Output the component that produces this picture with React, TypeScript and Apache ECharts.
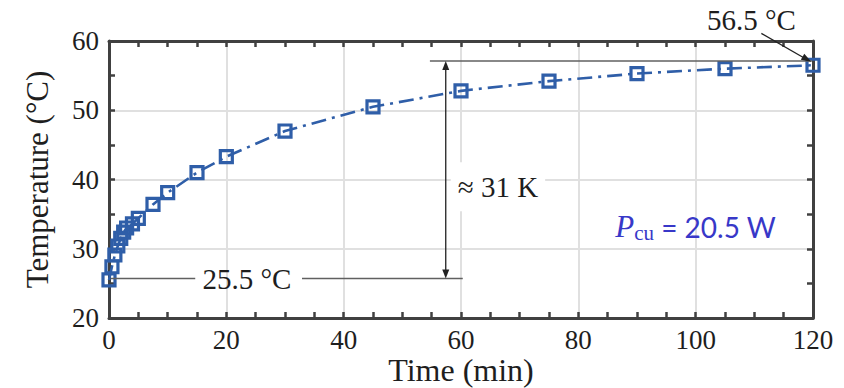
import React, { useEffect, useRef } from "react";
import * as echarts from "echarts";

// ---- data ----
const timeMin = [0, 0.5, 1, 1.5, 2, 2.5, 3, 4, 5, 7.5, 10, 15, 20, 30, 45, 60, 75, 90, 105, 120];
const tempC = [25.5, 27.4, 29.1, 30.4, 31.5, 32.4, 33.0, 33.6, 34.4, 36.4, 38.1, 41.0, 43.3, 47.0, 50.5, 52.8, 54.2, 55.3, 56.0, 56.5];
const xTicks = [0, 20, 40, 60, 80, 100, 120];
const yTicks = [20, 30, 40, 50, 60];

// annotation levels / labels (data units)
const startLevel = 25.7;
const endLevel = 57.1;
const startLabel = "25.5 °C";
const endLabel = "56.5 °C";
const riseLabel = "≈ 31 K";
const powerValue = "20.5 W";

const BLUE = "#2f5ea8";
const AXIS = "#404040";
const TEXT = "#1e1e1e";
const PCOLOR = "#3838c8";
const FONT = "'Liberation Serif', 'DejaVu Serif', serif";

function arrowHead(from: number[], to: number[], len: number, half: number) {
  const dx = to[0] - from[0];
  const dy = to[1] - from[1];
  const d = Math.hypot(dx, dy) || 1;
  const ux = dx / d, uy = dy / d;
  const bx = to[0] - ux * len, by = to[1] - uy * len;
  return [
    [to[0], to[1]],
    [bx - uy * half, by + ux * half],
    [bx + uy * half, by - ux * half],
  ];
}

export default function App() {
  const ref = useRef<HTMLDivElement>(null);
  useEffect(() => {
    if (!ref.current) return;
    const chart = echarts.init(ref.current, null, { renderer: "svg" });
    const xMin = xTicks[0], xMax = xTicks[xTicks.length - 1];
    const yMin = yTicks[0], yMax = yTicks[yTicks.length - 1];
    const xInt = xTicks[1] - xTicks[0];
    const yInt = yTicks[1] - yTicks[0];

    const commonAxis = {
      type: "value" as const,
      axisLine: { show: true, onZero: false, lineStyle: { color: AXIS, width: 3 } },
      axisTick: { show: true, inside: true, length: 6, lineStyle: { color: AXIS, width: 2.5 } },
      minorTick: { show: true, length: 6, lineStyle: { color: AXIS, width: 2.5 } },
    };

    chart.setOption({
      animation: false,
      backgroundColor: "#ffffff",
      grid: { left: 109, right: 31, top: 41, bottom: 70, containLabel: false, outerBoundsMode: "none" },
      xAxis: [
        {
          ...commonAxis,
          position: "bottom",
          min: xMin, max: xMax, interval: xInt,
          minorTick: { ...commonAxis.minorTick, splitNumber: 4 },
          splitLine: { show: true, lineStyle: { color: "#e0e0e0", width: 2 } },
          axisLabel: { fontFamily: FONT, fontSize: 27, color: TEXT, margin: 8, lineHeight: 27 },
          name: "Time (min)",
          nameLocation: "middle",
          nameGap: 36,
          nameMoveOverlap: false,
          nameTextStyle: { fontFamily: FONT, fontSize: 32, color: TEXT, lineHeight: 32, verticalAlign: "top" },
        },
        {
          ...commonAxis,
          position: "top",
          min: xMin, max: xMax, interval: xInt,
          minorTick: { ...commonAxis.minorTick, splitNumber: 4 },
          splitLine: { show: false },
          axisLabel: { show: false },
        },
      ],
      yAxis: [
        {
          ...commonAxis,
          position: "left",
          min: yMin, max: yMax, interval: yInt,
          minorTick: { ...commonAxis.minorTick, splitNumber: 2 },
          splitLine: { show: true, lineStyle: { color: "#e0e0e0", width: 2 } },
          axisLabel: { fontFamily: FONT, fontSize: 27, color: TEXT, margin: 10 },
          name: "Temperature (°C)",
          nameLocation: "middle",
          nameGap: 56,
          nameMoveOverlap: false,
          nameTextStyle: { fontFamily: FONT, fontSize: 31, color: TEXT },
        },
        {
          ...commonAxis,
          position: "right",
          min: yMin, max: yMax, interval: yInt,
          minorTick: { ...commonAxis.minorTick, splitNumber: 2 },
          splitLine: { show: false },
          axisLabel: { show: false },
        },
      ],
      series: [
        {
          type: "line",
          xAxisIndex: 0,
          yAxisIndex: 0,
          data: timeMin.map((t, i) => [t, tempC[i]]),
          symbol: "rect",
          symbolSize: 12,
          itemStyle: { color: "rgba(255,255,255,0)", borderColor: BLUE, borderWidth: 3.2 },
          lineStyle: { color: BLUE, width: 2.6, type: [15, 6, 3, 6] },
          z: 5,
        },
      ],
    });

    const P = (x: number, y: number) =>
      chart.convertToPixel({ xAxisIndex: 0, yAxisIndex: 0 }, [x, y]) as number[];

    const gray = { stroke: "#606060", lineWidth: 1.5 };
    const s0 = P(0.3, startLevel), s1 = P(14.7, startLevel);
    const s2 = P(32.9, startLevel), s3 = P(60.3, startLevel);
    const e0 = P(54.7, endLevel), e1 = P(119.8, endLevel);
    const vTop = P(57.4, endLevel), vBot = P(57.4, startLevel);
    const arrA = P(111.2, 61.1), arrB = P(119.7, 57.0);

    const headUp = arrowHead(vBot, vTop, 9, 3.5);
    const headDown = arrowHead(vTop, vBot, 9, 3.5);
    const headEnd = arrowHead(arrA, arrB, 10, 3.5);

    const riseAt = P(66.3, 38.95);
    const startAt = P(23.5, startLevel);
    const endAt = P(109.5, 63.0);
    const powerAt = P(86.3, 33.2);

    chart.setOption({
      graphic: [
        { type: "line", z: 50, shape: { x1: s0[0], y1: s0[1], x2: s1[0], y2: s1[1] }, style: gray },
        { type: "line", z: 50, shape: { x1: s2[0], y1: s2[1], x2: s3[0], y2: s3[1] }, style: gray },
        { type: "line", z: 50, shape: { x1: e0[0], y1: e0[1], x2: e1[0], y2: e1[1] }, style: gray },
        { type: "line", z: 51, shape: { x1: vTop[0], y1: vTop[1] + 4, x2: vBot[0], y2: vBot[1] - 4 }, style: { stroke: "#222", lineWidth: 1.3 } },
        { type: "polygon", z: 51, shape: { points: headUp }, style: { fill: "#222" } },
        { type: "polygon", z: 51, shape: { points: headDown }, style: { fill: "#222" } },
        { type: "line", z: 51, shape: { x1: arrA[0], y1: arrA[1], x2: arrB[0] - 4, y2: arrB[1] - 2 }, style: { stroke: "#222", lineWidth: 1.3 } },
        { type: "polygon", z: 51, shape: { points: headEnd }, style: { fill: "#222" } },
        {
          type: "text", z: 52, x: startAt[0], y: startAt[1],
          style: { text: startLabel, font: `29px ${FONT}`, fill: TEXT, align: "center", verticalAlign: "middle" },
        },
        {
          type: "text", z: 52, x: riseAt[0], y: riseAt[1],
          style: {
            text: riseLabel, font: `29px ${FONT}`, fill: TEXT, align: "center", verticalAlign: "middle",
            backgroundColor: "#ffffff", padding: [11, 7, 9, 7],
          },
        },
        {
          type: "text", z: 52, x: endAt[0], y: endAt[1],
          style: { text: endLabel, font: `29px ${FONT}`, fill: TEXT, align: "center", verticalAlign: "middle" },
        },
        {
          type: "text", z: 52, x: powerAt[0], y: powerAt[1],
          style: {
            text: `{p|P}{s|cu}{r| = ${powerValue}}`,
            align: "left", verticalAlign: "middle",
            fill: PCOLOR,
            rich: {
              p: { fontFamily: FONT, fontStyle: "italic", fontSize: 31, fill: PCOLOR },
              s: { fontFamily: FONT, fontSize: 21, fill: PCOLOR, verticalAlign: "bottom", padding: [12, 0, 0, 0] },
              r: { fontFamily: "Lato, 'Open Sans', sans-serif", fontSize: 28, fill: PCOLOR },
            },
          },
        },
      ],
    });

    return () => chart.dispose();
  }, []);
  return (
    <div
      ref={ref}
      style={{ position: "fixed", left: 0, top: 0, width: 844, height: 388, background: "#fff" }}
    />
  );
}
